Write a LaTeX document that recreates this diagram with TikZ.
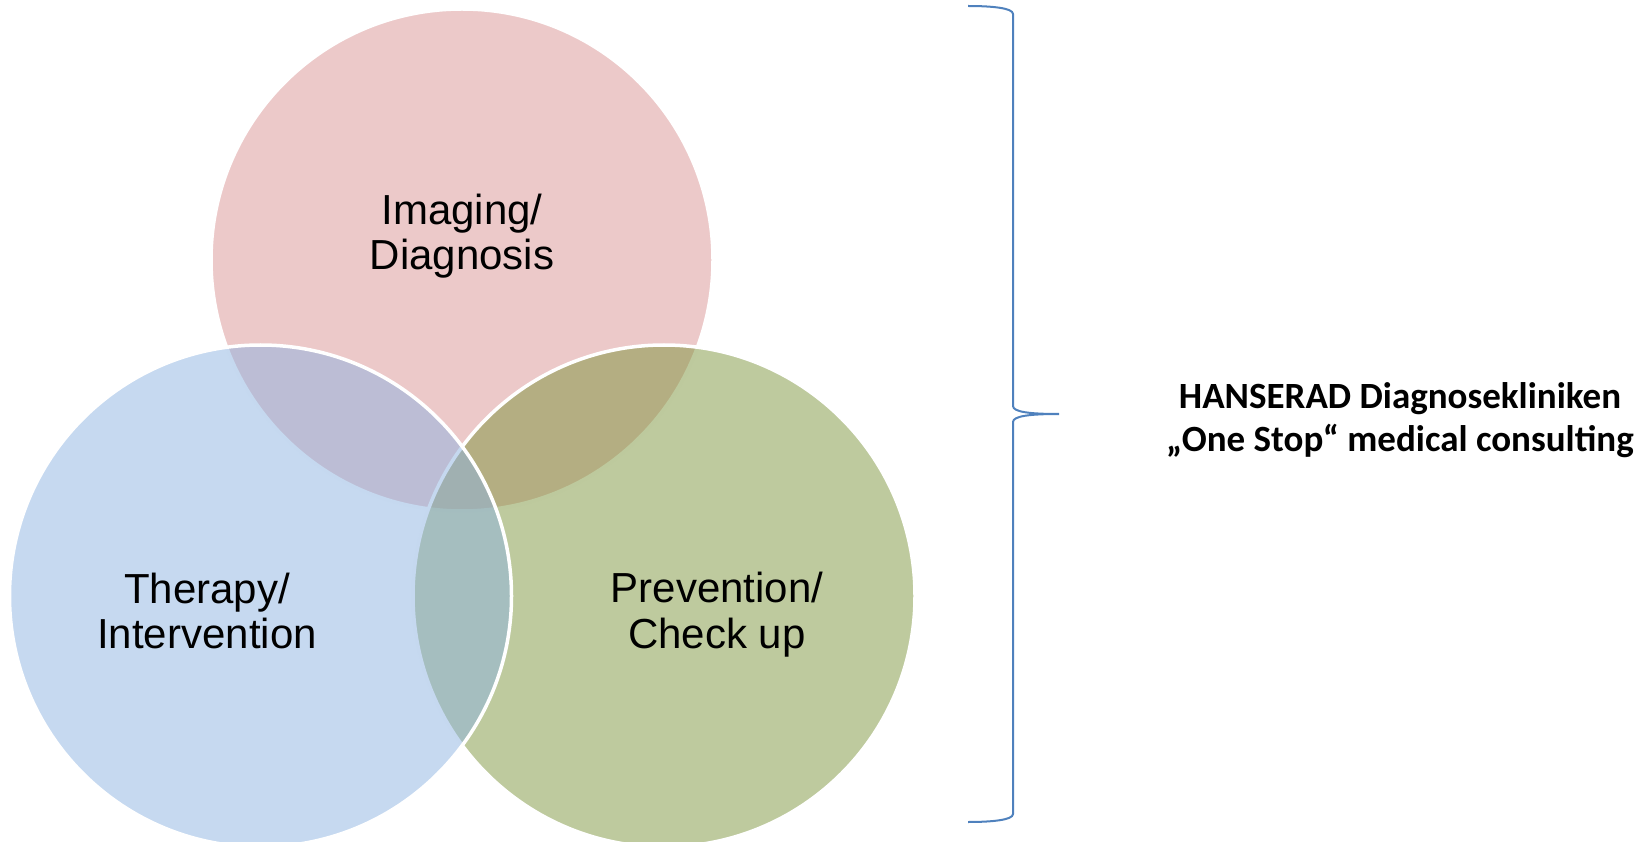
\documentclass[tikz,border=0pt]{standalone}
\usepackage{fontspec}
\setmainfont{Liberation Sans}
\newfontfamily\calfont{Carlito}

\definecolor{imgpink}{RGB}{217,147,147}
\definecolor{prevgreen}{RGB}{125,149,61}
\definecolor{therblue}{RGB}{141,179,225}
\definecolor{bracecol}{RGB}{79,129,189}

\tikzset{every picture/.style={line width=0.75pt}}
\tikzset{
  venn/.style={draw=white, line width=3.5pt, fill opacity=0.5, draw opacity=1},
  venntext/.style={inner sep=0pt, align=center, font=\fontsize{42}{45.3}\selectfont},
}

\begin{document}
\begin{tikzpicture}[x=1pt,y=1pt,yscale=-1,xscale=1]
\useasboundingbox (0,0) rectangle (1650,842);

%Shape: Circle [top]
\draw[venn, fill=imgpink] (462,260) circle (251);
%Shape: Circle [right]
\draw[venn, fill=prevgreen] (664,596) circle (251);
%Shape: Circle [left]
\draw[venn, fill=therblue] (260.5,596) circle (251);

%Shape: Brace
\draw[bracecol, line width=2pt] (968,6) .. controls (992,6) and (1013,8) .. (1013,14) -- (1013,406) .. controls (1013,412) and (1030,414) .. (1059,414) .. controls (1030,414) and (1013,416) .. (1013,422) -- (1013,814) .. controls (1013,820) and (992,822) .. (968,822);

% Text Node
\node[venntext] (imaging) at (462,236) {Imaging/\\Diagnosis};
% Text Node
\node[venntext] (therapy) at (207,611) {Therapy/\\Intervention};
% Text Node
\node[venntext] (prevention) at (717,614.5) {Prevention/\\Check up};
% Text Node
\node[inner sep=0pt, align=center, font=\calfont\bfseries\fontsize{37}{43}\selectfont] (hanserad) at (1400,420) {HANSERAD Diagnosekliniken\\„One Stop“ medical consulting};

\end{tikzpicture}
\end{document}
